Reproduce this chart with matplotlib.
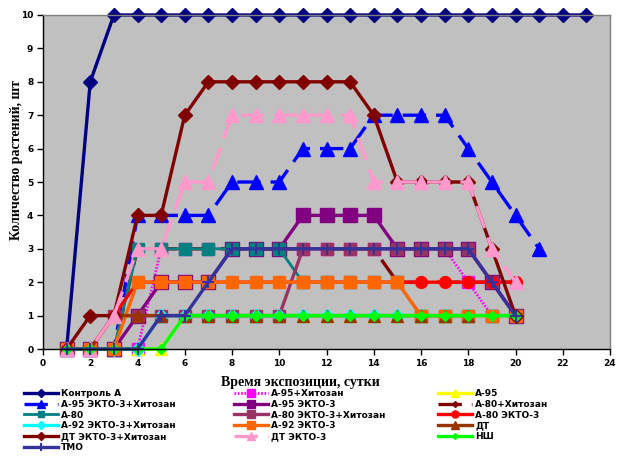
import matplotlib
matplotlib.use("Agg")
import matplotlib.pyplot as plt

# ---------------- data ----------------
days23 = list(range(1, 24))
days21 = list(range(1, 22))
days20 = list(range(1, 21))
days18 = list(range(1, 19))
days19 = list(range(1, 20))

kontrol_a = [0, 8] + [10] * 21
a95_chit = [0, 0, 0, 0, 3, 3, 3, 3, 3, 3, 3, 3, 3, 3, 3, 3, 3, 2, 1, 1]
a95 = [0, 0, 0, 0, 0, 1, 1, 1, 1, 1, 1, 1, 1, 1, 1, 1, 1, 1, 1]
a95_ekto_chit = [0, 0, 0, 4, 4, 4, 4, 5, 5, 5, 6, 6, 6, 7, 7, 7, 7, 6, 5, 4, 3]
a95_ekto = [0, 0, 0, 1, 2, 2, 2, 3, 3, 3, 4, 4, 4, 4, 3, 3, 3, 3, 2, 1]
a80_chit = [0, 0, 0, 3, 3, 3, 3, 3, 3, 3, 3, 3, 3, 3, 2, 2, 2, 2, 2, 2]
a80 = [0, 0, 0, 3, 3, 3, 3, 3, 3, 3, 2, 2, 2, 2, 2, 1, 1, 1, 1, 1]
a80_ekto_chit = [0, 0, 1, 1, 1, 1, 1, 1, 1, 1, 3, 3, 3, 3, 3, 3, 3, 3, 2, 1]
a80_ekto = [0, 0, 1, 2, 2, 2, 2, 2, 2, 2, 2, 2, 2, 2, 2, 2, 2, 2, 2, 2]
a92_ekto_chit = [0, 0, 0, 0, 1, 1, 1, 1, 1, 1, 1, 1, 1, 1, 1, 1, 1, 1, 1, 1]
a92_ekto = [0, 0, 0, 2, 2, 2, 2, 2, 2, 2, 2, 2, 2, 2, 2, 1, 1, 1, 1, 1]
dt = [0, 0, 1, 1, 1, 1, 1, 1, 1, 1, 1, 1, 1, 1, 1, 1, 1, 1]
dt_ekto_chit = [0, 1, 1, 4, 4, 7, 8, 8, 8, 8, 8, 8, 8, 7, 5, 5, 5, 5, 3, 1]
dt_ekto = [0, 0, 1, 3, 3, 5, 5, 7, 7, 7, 7, 7, 7, 5, 5, 5, 5, 5, 3, 2]
nsh = [0, 0, 0, 0, 0, 1, 1, 1, 1, 1, 1, 1, 1, 1, 1, 1, 1, 1, 1, 1]
tmo = [0, 0, 0, 0, 1, 1, 2, 3, 3, 3, 3, 3, 3, 3, 3, 3, 3, 3, 2, 1]

labels = ["Контроль А", "А-95+Хитозан", "А-95",
          "А-95 ЭКТО-3+Хитозан", "А-95 ЭКТО-3", "А-80+Хитозан",
          "А-80", "А-80 ЭКТО-3+Хитозан", "А-80 ЭКТО-3",
          "А-92 ЭКТО-3+Хитозан", "А-92 ЭКТО-3", "ДТ",
          "ДТ ЭКТО-3+Хитозан", "ДТ ЭКТО-3", "НШ", "ТМО"]

x_ticks = list(range(0, 25, 2))
y_ticks = list(range(0, 11))

# ---------------- style ----------------
series = [
    (days23, kontrol_a, dict(color="#000080", marker="D", ms=7.5, lw=2.4, ls="-")),
    (days20, a95_chit, dict(color="#FF00FF", marker="s", ms=8.5, lw=2.0, ls=(0, (0.6, 0.6)))),
    (days19, a95, dict(color="#FFFF00", marker="^", ms=9, lw=2.4, ls="-")),
    (days21, a95_ekto_chit, dict(color="#0000FF", marker="^", ms=9.5, lw=2.4, ls=(0, (7, 3)))),
    (days20, a95_ekto, dict(color="#800080", marker="s", ms=9.5, lw=2.4, ls="-")),
    (days20, a80_chit, dict(color="#800000", marker="D", ms=5, lw=2.4, ls=(0, (7, 3)))),
    (days20, a80, dict(color="#008080", marker="s", ms=8, lw=2.0, ls="-")),
    (days20, a80_ekto_chit, dict(color="#993366", marker="s", ms=9, lw=2.4, ls="-")),
    (days20, a80_ekto, dict(color="#FF0000", marker="o", ms=8.5, lw=2.4, ls="-")),
    (days20, a92_ekto_chit, dict(color="#00FFFF", marker="D", ms=7.5, lw=2.4, ls="-")),
    (days20, a92_ekto, dict(color="#FF6600", marker="s", ms=8.5, lw=2.4, ls="-")),
    (days18, dt, dict(color="#993300", marker="^", ms=8.5, lw=2.4, ls="-")),
    (days20, dt_ekto_chit, dict(color="#800000", marker="D", ms=7.5, lw=2.4, ls="-")),
    (days20, dt_ekto, dict(color="#FF99CC", marker="^", ms=9.5, lw=2.4, ls=(0, (7, 3)))),
    (days20, nsh, dict(color="#00FF00", marker="D", ms=5, lw=2.4, ls="-")),
    (days20, tmo, dict(color="#333399", marker="+", ms=9, lw=2.4, ls="-")),
]

fig = plt.figure(figsize=(6.24, 4.73), dpi=100)
ax = fig.add_axes([43 / 624, 1 - 349 / 473, (610 - 43) / 624, (349 - 15) / 473])
ax.set_facecolor("#C0C0C0")

handles = []
for xs, ys, st in series:
    ln, = ax.plot(xs, ys, color=st["color"], lw=st["lw"], ls=st["ls"],
                  marker=st["marker"], ms=st["ms"], mfc=st["color"],
                  mec=st["color"], mew=1.5 if st["marker"] == "+" else 1.0,
                  clip_on=False, dash_capstyle="butt")
    handles.append(ln)

ax.set_xlim(0, 24)
ax.set_ylim(0, 10)
ax.set_xticks(x_ticks)
ax.set_yticks(y_ticks)
ax.tick_params(axis="both", direction="out", length=4, width=1, labelsize=6.5, pad=3)
for lab in ax.get_xticklabels() + ax.get_yticklabels():
    lab.set_fontweight("bold")
for s in ["left", "bottom"]:
    ax.spines[s].set_color("black")
    ax.spines[s].set_linewidth(1)
for s in ["top", "right"]:
    ax.spines[s].set_color("#808080")
    ax.spines[s].set_linewidth(1)

fig.text(300 / 624, 1 - 382 / 473, "Время экспозиции, сутки", ha="center", va="center",
         fontsize=10, fontweight="bold", family="Liberation Serif")
fig.text(17 / 624, 1 - 160 / 473, "Количество растений, шт", ha="center", va="center",
         rotation=90, fontsize=10, fontweight="bold", family="Liberation Serif")

# legend: Excel orders row-major across 3 columns
col_x = [24 / 624, 234 / 624, 438 / 624]
for c in range(3):
    idx = list(range(c, len(handles), 3))
    fig.legend([handles[i] for i in idx], [labels[i] for i in idx],
               loc="upper left", bbox_to_anchor=(col_x[c], 1 - 389 / 473),
               frameon=False, handlelength=3.8, handletextpad=0.3,
               labelspacing=0.2, markerscale=0.6, borderpad=0, borderaxespad=0,
               prop=dict(family="DejaVu Sans", weight="bold", size=6.5))

fig.savefig("out.png", dpi=100)
